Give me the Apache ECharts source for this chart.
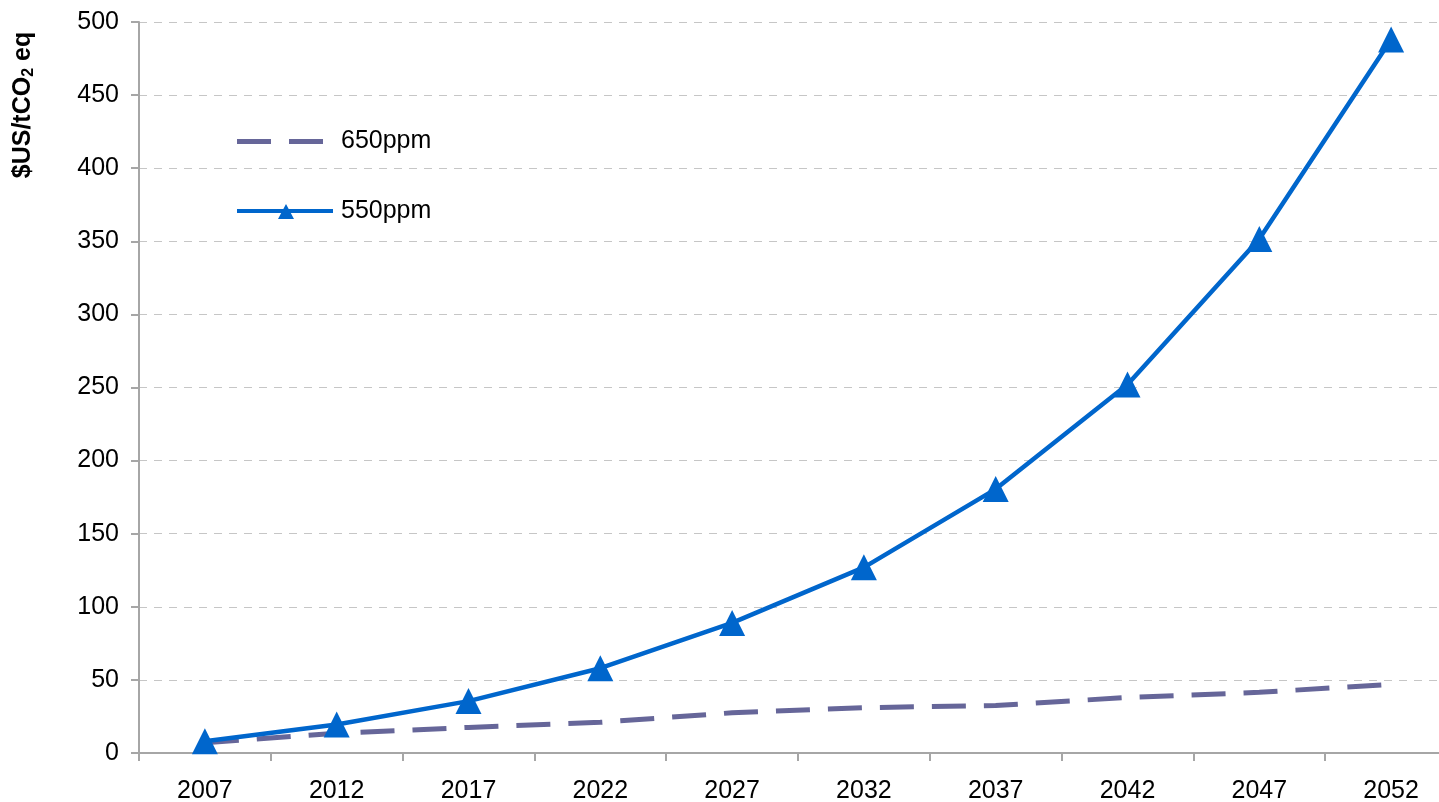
<!DOCTYPE html>
<html>
<head>
<meta charset="utf-8">
<script src="https://cdn.jsdelivr.net/npm/echarts@6/dist/echarts.min.js"></script>
<style>
html,body{margin:0;padding:0;background:#fff;overflow:hidden;}
#chart{width:1460px;height:802px;}
</style>
</head>
<body>
<div id="chart"></div>
<script>
const years = ['2007','2012','2017','2022','2027','2032','2037','2042','2047','2052'];
const ppm650 = [7, 13.5, 17.5, 21, 27.5, 31, 32.5, 38, 41.5, 47];
const ppm550 = [8, 19.5, 35.5, 58, 89, 127, 180.5, 252, 351.5, 488];
const yTicks = {min: 0, max: 500, interval: 50};

const FONT = '"Liberation Sans", Arial, sans-serif';
const ICON_650 = 'path://M0,0 H34 V5 H0 Z M52,0 H86 V5 H52 Z M95.9,2.4 L96,2.4 L96,2.6 Z';
const ICON_550 = 'path://M0,9 H96 V13 H0 Z M49,4 L57,19 L41,19 Z';

const chart = echarts.init(document.getElementById('chart'));
chart.setOption({
  animation: false,
  backgroundColor: '#ffffff',
  grid: {left: 139, top: 22, width: 1318, height: 731, outerBoundsMode: 'none', containLabel: false},
  legend: {
    orient: 'vertical',
    left: 237, top: 129,
    padding: 0,
    itemWidth: 96, itemHeight: 16, itemGap: 45,
    symbolKeepAspect: true,
    textStyle: {fontFamily: FONT, fontSize: 25, color: '#000', padding: [0, 0, 0, 3]},
    data: [
      {name: '650ppm', icon: ICON_650},
      {name: '550ppm', icon: ICON_550}
    ]
  },
  xAxis: {
    type: 'category',
    data: years,
    boundaryGap: true,
    axisLine: {lineStyle: {color: '#a6a6a6', width: 2}},
    axisTick: {show: true, length: 8, interval: 0, lineStyle: {color: '#a6a6a6', width: 2}},
    axisLabel: {fontFamily: FONT, fontSize: 25, color: '#000', margin: 26},
    splitLine: {show: false}
  },
  yAxis: {
    type: 'value',
    min: yTicks.min, max: yTicks.max, interval: yTicks.interval,
    axisLine: {show: true, lineStyle: {color: '#a6a6a6', width: 2}},
    axisTick: {show: true, length: 8, lineStyle: {color: '#a6a6a6', width: 2}},
    axisLabel: {fontFamily: FONT, fontSize: 25, color: '#000', margin: 20},
    splitLine: {show: true, lineStyle: {color: '#c6c6c6', width: 1, type: [8, 7]}}
  },
  graphic: [{
    type: 'text',
    x: 23, y: 105,
    rotation: Math.PI / 2,
    style: {
      text: '{a|$US/tCO}{s|2}{a| eq}',
      fontFamily: FONT,
      align: 'center',
      verticalAlign: 'middle',
      rich: {
        a: {fontFamily: FONT, fontSize: 25, fontWeight: 'bold', fill: '#000', color: '#000'},
        s: {fontFamily: FONT, fontSize: 16, fontWeight: 'bold', fill: '#000', color: '#000', padding: [12, 0, 0, 0]}
      }
    }
  }],
  series: [
    {
      name: '650ppm',
      type: 'line',
      data: ppm650,
      symbol: 'none',
      lineStyle: {color: '#666699', width: 5, type: [34, 18]},
      itemStyle: {color: '#666699'}
    },
    {
      name: '550ppm',
      type: 'line',
      data: ppm550,
      symbol: 'triangle',
      symbolSize: 26,
      lineStyle: {color: '#0066CC', width: 4.5},
      itemStyle: {color: '#0066CC'}
    }
  ]
});
</script>
</body>
</html>
